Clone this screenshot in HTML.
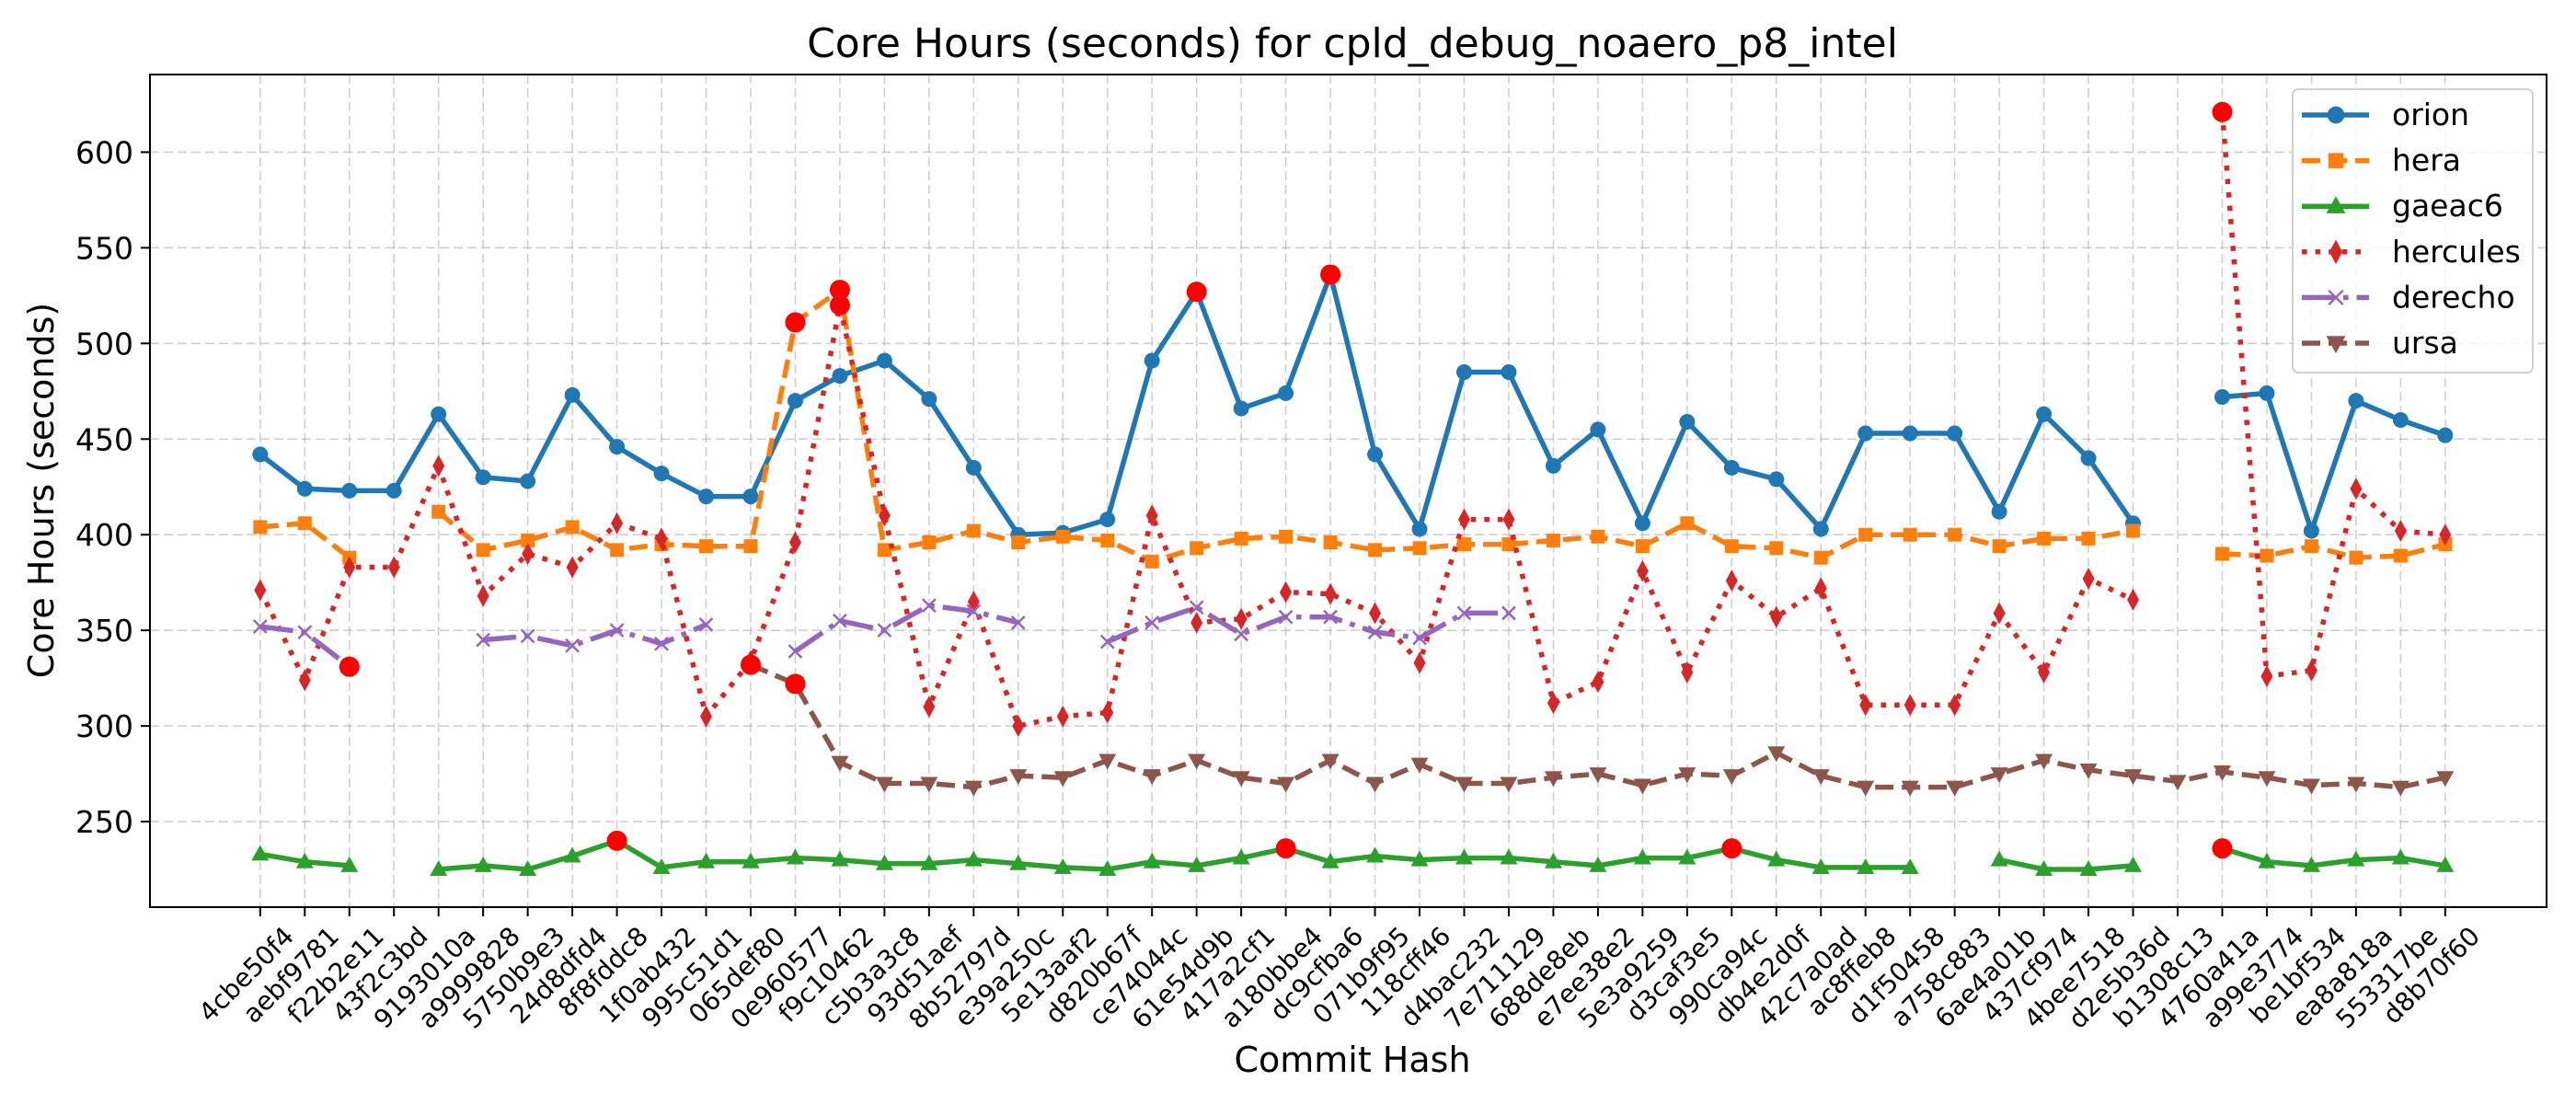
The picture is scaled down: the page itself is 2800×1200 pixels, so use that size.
<!DOCTYPE html>
<html><head><meta charset="utf-8"><style>
html,body{margin:0;padding:0;background:#fff;}
svg{display:block;font-family:"DejaVu Sans","Liberation Sans",sans-serif;}
</style></head><body>
<svg id="chart" xmlns="http://www.w3.org/2000/svg" width="2800" height="1200" viewBox="0 0 2800 1200">
<rect width="2800" height="1200" fill="#fff"/>
<g id="grid"></g>
<g id="series"></g>
<g id="axes"></g>
<text x="1470" y="62" font-size="44" text-anchor="middle">Core Hours (seconds) for cpld_debug_noaero_p8_intel</text>
<text x="1470" y="1165" font-size="38" text-anchor="middle">Commit Hash</text>
<text transform="translate(58,533) rotate(-90)" font-size="38" text-anchor="middle">Core Hours (seconds)</text>
<g id="legend"></g>
</svg>
<script>
const categories = ["4cbe50f4","aebf9781","f22b2e11","43f2c3bd","9193010a","a9999828","5750b9e3","24d8dfd4","8f8fddc8","1f0ab432","995c51d1","065def80","0e960577","f9c10462","c5b3a3c8","93d51aef","8b52797d","e39a250c","5e13aaf2","d820b67f","ce74044c","61e54d9b","417a2cf1","a180bbe4","dc9cfba6","071b9f95","118cff46","d4bac232","7e711129","688de8eb","e7ee38e2","5e3a9259","d3caf3e5","990ca94c","db4e2d0f","42c7a0ad","ac8ffeb8","d1f50458","a758c883","6ae4a01b","437cf974","4bee7518","d2e5b36d","b1308c13","4760a41a","a99e3774","be1bf534","ea8a818a","553317be","d8b70f60"];
const orion = [442,424,423,423,463,430,428,473,446,432,420,420,470,483,491,471,435,400,401,408,491,527,466,474,536,442,403,485,485,436,455,406,459,435,429,403,453,453,453,412,463,440,406,null,472,474,402,470,460,452];
const hera = [404,406,388,null,412,392,397,404,392,395,394,394,511,528,392,396,402,396,399,397,386,393,398,399,396,392,393,395,395,397,399,394,406,394,393,388,400,400,400,394,398,398,402,null,390,389,394,388,389,395];
const gaeac6 = [233,229,227,null,225,227,225,232,240,226,229,229,231,230,228,228,230,228,226,225,229,227,231,236,229,232,230,231,231,229,227,231,231,236,230,226,226,226,null,230,225,225,227,null,236,229,227,230,231,227];
const hercules = [371,324,383,383,436,368,390,383,406,398,305,334,396,520,410,310,365,300,305,307,410,354,356,370,369,359,333,408,408,312,323,381,328,376,357,372,311,311,311,359,328,377,366,null,621,326,329,424,402,400];
const derecho = [352,349,331,null,null,345,347,342,350,343,353,null,339,355,350,363,360,354,null,344,354,362,348,357,357,349,346,359,359,null,null,null,null,null,null,null,null,null,null,null,null,null,null,null,null,null,null,null,null,null];
const ursa = [null,null,null,null,null,null,null,null,null,null,null,332,322,281,270,270,268,274,273,282,274,282,273,270,282,270,280,270,270,273,275,269,275,274,286,274,268,268,268,275,282,277,274,271,276,273,269,270,268,273];
const yTicks = [250,300,350,400,450,500,550,600];
const anomalySeries = ["derecho","ursa","ursa","hera","hera","hercules","gaeac6","orion","gaeac6","orion","gaeac6","gaeac6","hercules"];
const anomalyIndex = [2,11,12,12,13,13,8,21,23,24,33,44,44];

const NS="http://www.w3.org/2000/svg";
const L=163,R=2768,T=81,B=986;
function xs(i){return 282.8+48.47*i;}
function ys(v){return 165.4+(600-v)*2.079;}
function mk(tag,attrs,parent){const e=document.createElementNS(NS,tag);for(const k in attrs)e.setAttribute(k,attrs[k]);parent.appendChild(e);return e;}
const grid=document.getElementById('grid'),axes=document.getElementById('axes'),ser=document.getElementById('series'),leg=document.getElementById('legend');

categories.forEach((c,i)=>{
  const x=xs(i);
  const g=mk('line',{x1:x,x2:x,y1:T,y2:B,stroke:'#b0b0b0','stroke-width':1.6,'stroke-dasharray':'10,5',opacity:0.6},grid);
  
  
  const t=mk('line',{x1:x,x2:x,y1:B,y2:B+10,stroke:'#000','stroke-width':2},axes);
  
  
  const lb=mk('text',{'font-size':28,'text-anchor':'middle','dominant-baseline':'central'},axes);
  lb.textContent=c;
  
  
  const len=lb.getComputedTextLength();
  const h=len*0.7071+30*0.7071;
  lb.setAttribute('transform',`translate(${x-15},${B+16+h/2}) rotate(-45)`);
});
yTicks.forEach(v=>{
  const y=ys(v);
  const g=mk('line',{x1:L,x2:R,y1:y,y2:y,stroke:'#b0b0b0','stroke-width':1.6,'stroke-dasharray':'10,5',opacity:0.6},grid);
  
  
  const t=mk('line',{x1:L-10,x2:L,y1:y,y2:y,stroke:'#000','stroke-width':2},axes);
  
  
  const lb=mk('text',{x:L-18,y:y+12,'font-size':33,'text-anchor':'end'},axes);
  lb.textContent=v;
  
  
});
const frame=mk('rect',{x:L,y:T,width:R-L,height:B-T,fill:'none',stroke:'#000','stroke-width':2},axes);



function marker(kind,x,y,color,parent,scale){
  const s=scale||1;let e;
  if(kind==='o'){e=mk('circle',{cx:x,cy:y,r:8.5*s,fill:color},parent);}
  else if(kind==='s'){e=mk('rect',{x:x-7.5*s,y:y-7.5*s,width:15*s,height:15*s,fill:color},parent);}
  else if(kind==='^'){e=mk('polygon',{points:`${x},${y-10*s} ${x+9.5*s},${y+7*s} ${x-9.5*s},${y+7*s}`,fill:color},parent);}
  else if(kind==='v'){e=mk('polygon',{points:`${x},${y+10*s} ${x+9.5*s},${y-7*s} ${x-9.5*s},${y-7*s}`,fill:color},parent);}
  else if(kind==='d'){e=mk('polygon',{points:`${x},${y-12*s} ${x+6.5*s},${y} ${x},${y+12*s} ${x-6.5*s},${y}`,fill:color},parent);}
  else if(kind==='x'){e=mk('path',{d:`M${x-7*s},${y-7*s}L${x+7*s},${y+7*s}M${x-7*s},${y+7*s}L${x+7*s},${y-7*s}`,stroke:color,'stroke-width':2.5,fill:'none'},parent);}
  return e;
}
const seriesDefs=[
  {name:'orion',data:orion,color:'#1f77b4',dash:'',m:'o'},
  {name:'hera',data:hera,color:'#ff7f0e',dash:'20,9',m:'s'},
  {name:'gaeac6',data:gaeac6,color:'#2ca02c',dash:'',m:'^'},
  {name:'hercules',data:hercules,color:'#d62728',dash:'5.6,9',m:'d'},
  {name:'derecho',data:derecho,color:'#9467bd',dash:'36,9,5.6,9',m:'x'},
  {name:'ursa',data:ursa,color:'#8c564b',dash:'20,9',m:'v'}
];
const seriesMap={orion,hera,gaeac6,hercules,derecho,ursa};
seriesDefs.forEach(sd=>{
  const g=mk('g',{},ser);
  
  
  let d='',pen=false;
  sd.data.forEach((v,i)=>{
    if(v===null){pen=false;return;}
    d+=(pen?'L':'M')+xs(i).toFixed(1)+','+ys(v).toFixed(1);pen=true;
  });
  const p=mk('path',{d:d,fill:'none',stroke:sd.color,'stroke-width':5.5,'stroke-dasharray':sd.dash,'stroke-linejoin':'round'},g);
  
  
  sd.data.forEach((v,i)=>{
    if(v===null)return;
    const e=marker(sd.m,xs(i),ys(v),sd.color,g);
    
    
  });
});
anomalySeries.forEach((s,k)=>{
  const i=anomalyIndex[k],v=seriesMap[s][i];
  const c=mk('circle',{cx:xs(i),cy:ys(v),r:11,fill:'#ff0000'},ser);
  
  
});
const box=mk('rect',{x:2492,y:97,width:261,height:308,rx:6,fill:'#fff','fill-opacity':0.8,stroke:'#d0d0d0','stroke-width':2},leg);


seriesDefs.forEach((sd,k)=>{
  const y=125+49.6*k;
  const g=mk('g',{},leg);
  
  
  mk('line',{x1:2502,x2:2575,y1:y,y2:y,stroke:sd.color,'stroke-width':5.5,'stroke-dasharray':sd.dash},g);
  marker(sd.m,2539,y,sd.color,g,1.1);
  const t=mk('text',{x:2600,y:y+11,'font-size':33},g);
  t.textContent=sd.name;
});
</script>
</body></html>
